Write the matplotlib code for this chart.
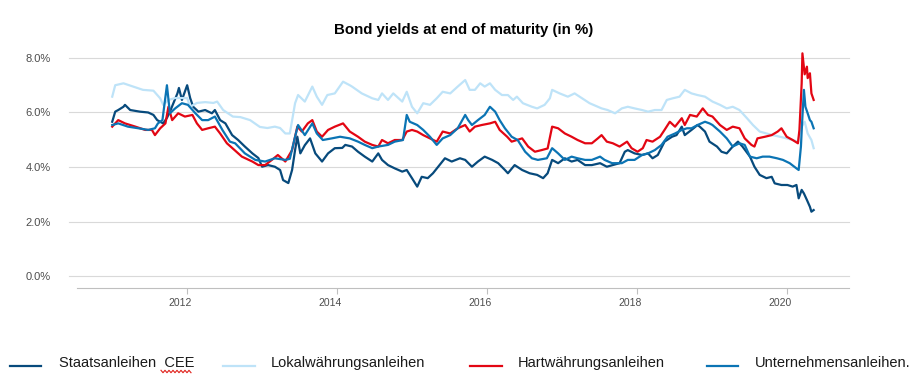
#______importing libraries__________
import numpy as np
import matplotlib
matplotlib.use("Agg")
import matplotlib.pyplot as plt
from matplotlib.lines import Line2D
from matplotlib.transforms import ScaledTranslation

plt.rcParams["font.family"] = ["Liberation Sans", "DejaVu Sans"]

#______data (decimal year, yield in %)_____________________________
staats_t = [2011.00, 2011.04, 2011.08, 2011.15, 2011.17, 2011.24, 2011.37, 2011.48, 2011.55, 2011.60,
            2011.64, 2011.68, 2011.73, 2011.77, 2011.87, 2011.89, 2011.93, 2012.00, 2012.04, 2012.08,
            2012.15, 2012.24, 2012.33, 2012.37, 2012.44, 2012.51, 2012.60, 2012.68, 2012.77, 2012.87,
            2012.95, 2013.00, 2013.08, 2013.17, 2013.24, 2013.28, 2013.35, 2013.40, 2013.44, 2013.47,
            2013.51, 2013.57, 2013.64, 2013.71, 2013.80, 2013.88, 2013.97, 2014.07, 2014.11, 2014.20,
            2014.28, 2014.37, 2014.47, 2014.55, 2014.60, 2014.68, 2014.77, 2014.87, 2014.93, 2015.00,
            2015.07, 2015.13, 2015.21, 2015.28, 2015.35, 2015.44, 2015.53, 2015.64, 2015.71, 2015.80,
            2015.88, 2015.97, 2016.07, 2016.15, 2016.24, 2016.28, 2016.37, 2016.47, 2016.57, 2016.67,
            2016.75, 2016.81, 2016.87, 2016.95, 2017.04, 2017.13, 2017.21, 2017.31, 2017.40, 2017.51,
            2017.60, 2017.68, 2017.77, 2017.84, 2017.88, 2017.97, 2018.07, 2018.15, 2018.21, 2018.28,
            2018.37, 2018.47, 2018.53, 2018.60, 2018.64, 2018.73, 2018.81, 2018.84, 2018.91, 2018.97,
            2019.07, 2019.13, 2019.20, 2019.28, 2019.35, 2019.41, 2019.51, 2019.57, 2019.64, 2019.73,
            2019.80, 2019.84, 2019.93, 2020.01, 2020.08, 2020.13, 2020.16, 2020.20, 2020.23, 2020.27,
            2020.31, 2020.33, 2020.36]
staats_y = [5.66, 6.03, 6.09, 6.21, 6.28, 6.09, 6.03, 6.00, 5.91, 5.72,
            5.66, 5.60, 5.80, 6.03, 6.70, 6.90, 6.46, 7.00, 6.53, 6.21,
            6.03, 6.09, 5.97, 6.09, 5.72, 5.60, 5.17, 4.99, 4.75, 4.50,
            4.33, 4.01, 4.07, 4.01, 3.89, 3.52, 3.41, 3.89, 4.62, 5.11,
            4.50, 4.80, 5.05, 4.50, 4.20, 4.50, 4.69, 4.70, 4.81, 4.75,
            4.56, 4.38, 4.20, 4.50, 4.26, 4.07, 3.95, 3.83, 3.89, 3.59,
            3.28, 3.64, 3.59, 3.77, 4.01, 4.32, 4.20, 4.32, 4.26, 4.01,
            4.20, 4.38, 4.26, 4.14, 3.89, 3.77, 4.07, 3.89, 3.77, 3.71,
            3.59, 3.77, 4.26, 4.14, 4.32, 4.20, 4.26, 4.07, 4.07, 4.14,
            4.01, 4.07, 4.14, 4.56, 4.62, 4.50, 4.44, 4.50, 4.32, 4.44,
            4.93, 5.11, 5.17, 5.48, 5.17, 5.36, 5.54, 5.48, 5.30, 4.93,
            4.75, 4.56, 4.50, 4.75, 4.93, 4.75, 4.38, 4.01, 3.71, 3.59,
            3.64, 3.40, 3.34, 3.34, 3.28, 3.34, 2.85, 3.16, 3.03, 2.79,
            2.54, 2.36, 2.42]

lokal_t = [2011.00, 2011.04, 2011.15, 2011.28, 2011.41, 2011.55, 2011.64, 2011.68, 2011.75, 2011.84,
           2012.00, 2012.04, 2012.13, 2012.24, 2012.35, 2012.40, 2012.48, 2012.61, 2012.71, 2012.84,
           2012.97, 2013.07, 2013.17, 2013.24, 2013.31, 2013.37, 2013.44, 2013.48, 2013.57, 2013.67,
           2013.73, 2013.80, 2013.87, 2013.97, 2014.08, 2014.17, 2014.20, 2014.33, 2014.47, 2014.55,
           2014.60, 2014.68, 2014.75, 2014.87, 2014.93, 2015.00, 2015.07, 2015.15, 2015.24, 2015.33,
           2015.41, 2015.51, 2015.61, 2015.71, 2015.77, 2015.84, 2015.91, 2015.97, 2016.04, 2016.11,
           2016.20, 2016.28, 2016.35, 2016.40, 2016.48, 2016.60, 2016.67, 2016.77, 2016.84, 2016.87,
           2016.97, 2017.08, 2017.17, 2017.27, 2017.37, 2017.53, 2017.61, 2017.71, 2017.80, 2017.88,
           2017.97, 2018.07, 2018.15, 2018.24, 2018.33, 2018.40, 2018.48, 2018.57, 2018.64, 2018.73,
           2018.81, 2018.91, 2019.01, 2019.11, 2019.20, 2019.28, 2019.37, 2019.47, 2019.55, 2019.64,
           2019.73, 2019.81, 2019.91, 2020.00, 2020.08, 2020.15, 2020.20, 2020.24, 2020.28, 2020.33,
           2020.36]
lokal_y = [6.58, 7.00, 7.07, 6.95, 6.83, 6.80, 6.52, 6.28, 6.46, 6.53,
           6.53, 6.21, 6.35, 6.38, 6.35, 6.40, 6.09, 5.85, 5.83, 5.72,
           5.47, 5.43, 5.48, 5.43, 5.23, 5.23, 6.34, 6.64, 6.40, 6.95,
           6.58, 6.28, 6.64, 6.70, 7.13, 7.00, 6.95, 6.70, 6.52, 6.46,
           6.70, 6.46, 6.70, 6.40, 6.76, 6.21, 5.97, 6.34, 6.28, 6.52,
           6.76, 6.70, 6.95, 7.19, 6.83, 6.83, 7.07, 6.95, 7.07, 6.83,
           6.64, 6.64, 6.46, 6.58, 6.34, 6.21, 6.15, 6.28, 6.52, 6.83,
           6.70, 6.58, 6.70, 6.52, 6.34, 6.15, 6.09, 5.97, 6.15, 6.21,
           6.15, 6.09, 6.03, 6.09, 6.09, 6.46, 6.52, 6.58, 6.83, 6.70,
           6.64, 6.58, 6.40, 6.28, 6.15, 6.21, 6.09, 5.79, 5.54, 5.30,
           5.23, 5.17, 5.11, 5.05, 4.99, 4.93, 5.48, 5.66, 5.23, 4.99,
           4.69]

hart_t = [2011.00, 2011.08, 2011.17, 2011.31, 2011.44, 2011.53, 2011.57, 2011.64, 2011.71, 2011.75,
          2011.80, 2011.88, 2011.97, 2012.07, 2012.13, 2012.20, 2012.28, 2012.37, 2012.44, 2012.53,
          2012.60, 2012.73, 2012.87, 2012.95, 2013.04, 2013.13, 2013.21, 2013.31, 2013.40, 2013.47,
          2013.53, 2013.61, 2013.67, 2013.73, 2013.80, 2013.88, 2013.97, 2014.08, 2014.17, 2014.28,
          2014.37, 2014.47, 2014.55, 2014.60, 2014.68, 2014.77, 2014.87, 2014.93, 2015.00, 2015.07,
          2015.15, 2015.24, 2015.33, 2015.41, 2015.51, 2015.61, 2015.71, 2015.77, 2015.84, 2015.93,
          2016.04, 2016.11, 2016.17, 2016.27, 2016.33, 2016.40, 2016.47, 2016.55, 2016.64, 2016.73,
          2016.81, 2016.87, 2016.95, 2017.04, 2017.13, 2017.21, 2017.31, 2017.40, 2017.48, 2017.53,
          2017.60, 2017.68, 2017.77, 2017.87, 2017.93, 2018.01, 2018.08, 2018.13, 2018.21, 2018.31,
          2018.37, 2018.44, 2018.51, 2018.60, 2018.64, 2018.71, 2018.80, 2018.88, 2018.95, 2019.01,
          2019.11, 2019.20, 2019.28, 2019.37, 2019.44, 2019.53, 2019.57, 2019.61, 2019.71, 2019.80,
          2019.88, 2019.93, 2020.00, 2020.08, 2020.15, 2020.17, 2020.20, 2020.21, 2020.24, 2020.27,
          2020.28, 2020.31, 2020.33, 2020.36]
hart_y = [5.48, 5.72, 5.60, 5.48, 5.36, 5.36, 5.17, 5.42, 5.60, 6.21,
          5.72, 5.97, 5.85, 5.91, 5.60, 5.36, 5.42, 5.48, 5.23, 4.87,
          4.70, 4.38, 4.20, 4.07, 4.07, 4.26, 4.44, 4.20, 4.62, 5.48,
          5.30, 5.60, 5.72, 5.30, 5.11, 5.36, 5.48, 5.60, 5.30, 5.11,
          4.93, 4.81, 4.75, 4.99, 4.87, 4.99, 4.99, 5.30, 5.36, 5.30,
          5.17, 5.05, 4.93, 5.30, 5.23, 5.42, 5.54, 5.30, 5.48, 5.54,
          5.60, 5.66, 5.36, 5.11, 4.93, 4.99, 5.05, 4.75, 4.56, 4.62,
          4.68, 5.48, 5.42, 5.23, 5.11, 4.99, 4.87, 4.87, 5.05, 5.17,
          4.93, 4.87, 4.75, 4.93, 4.69, 4.56, 4.69, 4.99, 4.93, 5.11,
          5.36, 5.66, 5.48, 5.79, 5.54, 5.91, 5.85, 6.15, 5.91, 5.85,
          5.54, 5.36, 5.48, 5.42, 5.05, 4.81, 4.75, 5.05, 5.11, 5.17,
          5.30, 5.42, 5.11, 4.99, 4.87, 5.36, 7.07, 8.17, 7.40, 7.68,
          7.26, 7.44, 6.70, 6.46]

unternehmen_t = [2011.00, 2011.08, 2011.21, 2011.35, 2011.48, 2011.57, 2011.61, 2011.67, 2011.73, 2011.77,
                 2011.84, 2011.93, 2012.01, 2012.11, 2012.20, 2012.28, 2012.37, 2012.47, 2012.57, 2012.64,
                 2012.77, 2012.91, 2013.04, 2013.17, 2013.31, 2013.37, 2013.44, 2013.48, 2013.57, 2013.67,
                 2013.73, 2013.81, 2013.93, 2014.04, 2014.17, 2014.28, 2014.37, 2014.47, 2014.55, 2014.68,
                 2014.77, 2014.88, 2014.93, 2014.97, 2015.07, 2015.15, 2015.24, 2015.33, 2015.41, 2015.51,
                 2015.61, 2015.71, 2015.75, 2015.80, 2015.88, 2015.97, 2016.04, 2016.11, 2016.17, 2016.24,
                 2016.33, 2016.41, 2016.51, 2016.60, 2016.68, 2016.80, 2016.87, 2016.95, 2017.04, 2017.13,
                 2017.21, 2017.31, 2017.40, 2017.51, 2017.57, 2017.67, 2017.80, 2017.88, 2017.97, 2018.07,
                 2018.15, 2018.24, 2018.33, 2018.41, 2018.51, 2018.60, 2018.67, 2018.73, 2018.81, 2018.91,
                 2018.97, 2019.01, 2019.11, 2019.20, 2019.28, 2019.37, 2019.44, 2019.51, 2019.60, 2019.68,
                 2019.77, 2019.87, 2019.95, 2020.04, 2020.13, 2020.16, 2020.19, 2020.21, 2020.23, 2020.25,
                 2020.28, 2020.31, 2020.33, 2020.36]
unternehmen_y = [5.54, 5.60, 5.48, 5.42, 5.36, 5.42, 5.60, 5.72, 7.00, 5.97,
                 6.15, 6.34, 6.28, 5.97, 5.72, 5.72, 5.85, 5.36, 4.93, 4.87,
                 4.50, 4.26, 4.20, 4.32, 4.26, 4.30, 5.11, 5.54, 5.17, 5.60,
                 5.23, 4.99, 5.05, 5.11, 5.05, 4.93, 4.81, 4.69, 4.75, 4.81,
                 4.93, 4.99, 5.91, 5.66, 5.54, 5.36, 5.11, 4.81, 5.05, 5.17,
                 5.42, 5.91, 5.72, 5.54, 5.72, 5.91, 6.21, 6.03, 5.72, 5.42,
                 5.11, 4.99, 4.56, 4.32, 4.26, 4.32, 4.69, 4.50, 4.26, 4.38,
                 4.32, 4.26, 4.26, 4.38, 4.26, 4.14, 4.14, 4.26, 4.26, 4.44,
                 4.50, 4.62, 4.81, 5.11, 5.23, 5.36, 5.42, 5.42, 5.54, 5.66,
                 5.60, 5.54, 5.30, 5.05, 4.75, 4.87, 4.81, 4.38, 4.32, 4.38,
                 4.38, 4.32, 4.26, 4.14, 3.95, 3.89, 4.75, 5.85, 6.83, 6.21,
                 5.97, 5.72, 5.66, 5.42]

series_names = ["Staatsanleihen  CEE", "Lokalwährungsanleihen", "Hartwährungsanleihen", "Unternehmensanleihen."]
series_colors = ["#074A7C", "#BEE3F8", "#E30613", "#0B74B4"]
year_ticks = [2012, 2014, 2016, 2018, 2020]
y_ticks = [0, 2, 4, 6, 8]

#______figure and axes__________
fig = plt.figure(figsize=(9.2, 3.83), dpi=100)
ax = fig.add_axes([0.0837, 0.248, 0.839, 0.622])

series = [(staats_t, staats_y), (lokal_t, lokal_y), (hart_t, hart_y), (unternehmen_t, unternehmen_y)]
for (t, y), c in zip(series, series_colors):
    ax.plot(t, y, color=c, lw=1.6, solid_joinstyle="round", zorder=3)

ax.set_xlim(2010.53, 2020.83)
ax.set_ylim(-0.44, 8.3)

# gridlines reach a little further left than the x axis line
for v in y_ticks:
    ax.axhline(v, xmin=-0.0104, xmax=1, color="#D9D9D9", lw=0.8, clip_on=False, zorder=1)

for s in ["top", "right", "left"]:
    ax.spines[s].set_visible(False)
ax.spines["bottom"].set_color("#BFBFBF")
ax.spines["bottom"].set_linewidth(0.8)

ax.set_yticks(y_ticks)
ax.set_yticklabels([f"{v:.1f}%" for v in y_ticks])
ax.tick_params(axis="y", length=0, pad=19, labelsize=8, labelcolor="#4D4D4D")

ax.set_xticks(year_ticks)
ax.set_xticklabels([str(v) for v in year_ticks])
ax.tick_params(axis="x", length=4, width=0.8, color="#BFBFBF", pad=3, labelsize=7.5, labelcolor="#4D4D4D")
shift = ScaledTranslation(-7 / 100, 0, fig.dpi_scale_trans)
for lab in ax.get_xticklabels():
    lab.set_transform(lab.get_transform() + shift)

fig.text(0.504, 0.922, "Bond yields at end of maturity (in %)", ha="center", va="center",
         fontsize=10.8, fontweight="bold", color="#000000")

#______legend along the bottom__________
leg_y = 1 - 365.5 / 383
line_x = [(10, 41), (223, 255), (470, 502), (707, 738)]
text_x = [59, 271, 518, 755]
for (x0, x1), tx, name, c in zip(line_x, text_x, series_names, series_colors):
    fig.add_artist(Line2D([x0 / 920, x1 / 920], [leg_y, leg_y], color=c, lw=1.6))
    fig.text(tx / 920, 1 - 363 / 383, name, ha="left", va="center", fontsize=10.5, color="#1A1A1A")

# red spell-check squiggle under "CEE"
sq_x = np.arange(161, 192, 2.0)
sq_y = 371.5 + np.where(np.arange(len(sq_x)) % 2 == 0, -1.2, 1.2)
fig.add_artist(Line2D(sq_x / 920, 1 - sq_y / 383, color="#E0201A", lw=0.8))

fig.savefig("out.png", dpi=100)
